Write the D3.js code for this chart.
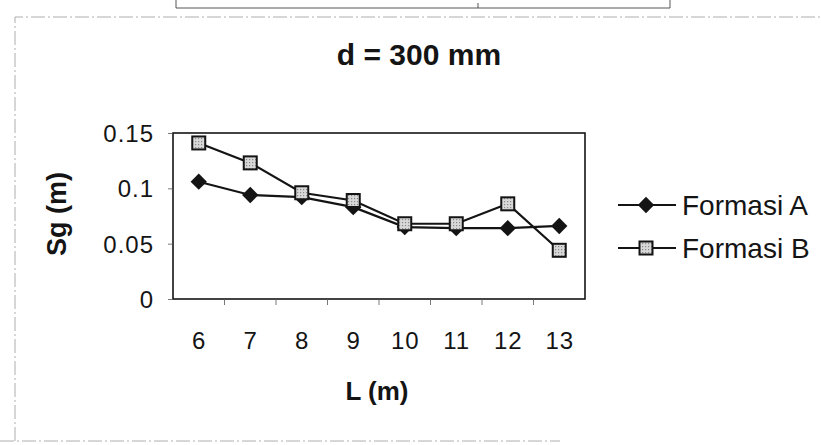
<!DOCTYPE html>
<html>
<head>
<meta charset="utf-8">
<script src="https://cdn.jsdelivr.net/npm/d3@7"></script>
<style>
  html, body { margin: 0; padding: 0; background: #fff; }
  svg { display: block; font-family: "Liberation Sans", Arial, sans-serif; }
</style>
</head>
<body>
<svg id="chart" width="821" height="445"></svg>
<script>
const categories = ["6", "7", "8", "9", "10", "11", "12", "13"];
const formasiA = [0.106, 0.094, 0.092, 0.083, 0.065, 0.064, 0.064, 0.066];
const formasiB = [0.141, 0.123, 0.096, 0.089, 0.068, 0.068, 0.086, 0.044];
const yTicks = [0, 0.05, 0.1, 0.15];
const yTickLabels = ["0", "0.05", "0.1", "0.15"];
const seriesNames = ["Formasi A", "Formasi B"];
const titleText = "d = 300 mm";
const xTitle = "L (m)";
const yTitle = "Sg (m)";

const svg = d3.select("#chart");
const ink = "#141414";

// pattern for the square markers (dotted grey fill)
const defs = svg.append("defs");
const pat = defs.append("pattern").attr("id", "dots")
  .attr("width", 3).attr("height", 3).attr("patternUnits", "userSpaceOnUse");
pat.append("rect").attr("width", 3).attr("height", 3).attr("fill", "#d8d8d8");
pat.append("rect").attr("width", 1.2).attr("height", 1.2).attr("fill", "#8a8a8a");

// faint outer chart border and table remnant at top
const frame = svg.append("g").attr("fill", "none").attr("stroke", "#9a9a9a")
  .attr("stroke-width", 0.8).attr("stroke-dasharray", "14,3,2,3");
frame.append("path").attr("d", "M15,441 L15,17 L821,17");
frame.append("path").attr("d", "M0,441 L560,441");
const tbl = svg.append("g").attr("fill", "none").attr("stroke", "#444").attr("stroke-width", 0.9);
tbl.append("path").attr("d", "M176,0 L176,8 L670,8 L670,0");
tbl.append("path").attr("d", "M478,3 L478,8");

const x = d3.scalePoint().domain(categories).range([173, 585]).padding(0.5);
const step = x.step();
const y = d3.scaleLinear().domain([0, 0.15]).range([299, 133]);

// plot area box
svg.append("rect")
  .attr("x", 173).attr("y", y(0.15))
  .attr("width", 585 - 173).attr("height", y(0) - y(0.15))
  .attr("fill", "none").attr("stroke", ink).attr("stroke-width", 1.6);

// y axis
const yAxis = d3.axisLeft(y).tickValues(yTicks)
  .tickFormat((d, i) => yTickLabels[i]).tickSize(5).tickPadding(14);
const gy = svg.append("g").attr("transform", "translate(173,0)").call(yAxis);
gy.select(".domain").remove();
gy.selectAll(".tick line").attr("stroke", "#555").attr("stroke-width", 0.8);
gy.selectAll(".tick text").attr("font-size", 24).attr("fill", ink)
  .attr("letter-spacing", 1).attr("dy", "0.36em");

// x axis: labels at category centers, ticks at boundaries
const xAxis = d3.axisBottom(x).tickSize(0).tickPadding(33);
const gx = svg.append("g").attr("transform", "translate(0,299)").call(xAxis);
gx.select(".domain").remove();
gx.selectAll(".tick text").attr("font-size", 24).attr("fill", ink).attr("letter-spacing", 1);
const bounds = categories.slice(1).map(c => x(c) - step / 2);
svg.append("g").selectAll("line").data(bounds).join("line")
  .attr("x1", d => d).attr("x2", d => d)
  .attr("y1", 299).attr("y2", 305)
  .attr("stroke", "#555").attr("stroke-width", 0.8);

// lines
const lineGen = d3.line().x((d, i) => x(categories[i])).y(d => y(d));
svg.append("path").datum(formasiA).attr("d", lineGen)
  .attr("fill", "none").attr("stroke", ink).attr("stroke-width", 2.2);
svg.append("path").datum(formasiB).attr("d", lineGen)
  .attr("fill", "none").attr("stroke", ink).attr("stroke-width", 2.2);

// markers
const diamond = d3.symbol().type(d3.symbolDiamond2).size(170);
svg.append("g").selectAll("path").data(formasiA).join("path")
  .attr("d", diamond)
  .attr("transform", (d, i) => `translate(${x(categories[i])},${y(d)})`)
  .attr("fill", ink);
svg.append("g").selectAll("rect").data(formasiB).join("rect")
  .attr("x", (d, i) => x(categories[i]) - 6.5)
  .attr("y", d => y(d) - 6.5)
  .attr("width", 13).attr("height", 13)
  .attr("fill", "url(#dots)").attr("stroke", ink).attr("stroke-width", 2);

// titles
svg.append("text").attr("x", 419).attr("y", 65).attr("text-anchor", "middle")
  .attr("font-size", 30).attr("font-weight", "bold").attr("fill", ink).text(titleText);
svg.append("text").attr("x", 377).attr("y", 400).attr("text-anchor", "middle")
  .attr("font-size", 26).attr("font-weight", "bold").attr("fill", ink).text(xTitle);
svg.append("text").attr("transform", "translate(66,214) rotate(-90)")
  .attr("text-anchor", "middle").attr("font-size", 27).attr("font-weight", "bold")
  .attr("fill", ink).text(yTitle);

// legend
const legendY = [205, 248];
const lg = svg.append("g");
seriesNames.forEach((name, i) => {
  const ly = legendY[i];
  lg.append("line").attr("x1", 618).attr("x2", 676).attr("y1", ly).attr("y2", ly)
    .attr("stroke", ink).attr("stroke-width", 2.2);
  if (i === 0) {
    lg.append("path").attr("d", diamond).attr("transform", `translate(646,${ly})`).attr("fill", ink);
  } else {
    lg.append("rect").attr("x", 639.5).attr("y", ly - 6.5).attr("width", 13).attr("height", 13)
      .attr("fill", "url(#dots)").attr("stroke", ink).attr("stroke-width", 2);
  }
  lg.append("text").attr("x", 682).attr("y", ly).attr("dy", "0.36em")
    .attr("font-size", 28).attr("fill", ink).text(name);
});
</script>
</body>
</html>
